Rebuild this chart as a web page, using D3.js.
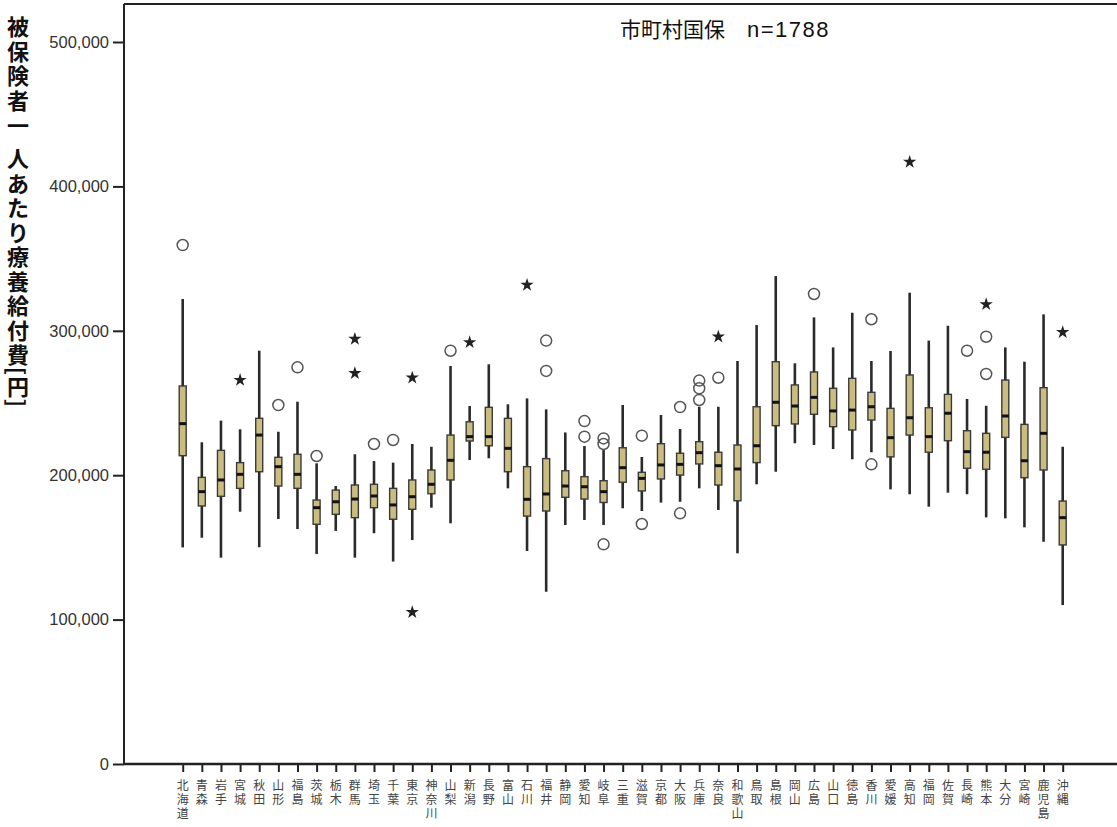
<!DOCTYPE html>
<html><head><meta charset="utf-8">
<script src="https://cdn.jsdelivr.net/npm/d3@7"></script>
<style>body{margin:0;background:#fff}</style>
</head><body><svg id="c" width="1117" height="827"></svg>
<script>
const prefectures = ["北海道","青森","岩手","宮城","秋田","山形","福島","茨城","栃木","群馬","埼玉","千葉","東京","神奈川","山梨","新潟","長野","富山","石川","福井","静岡","愛知","岐阜","三重","滋賀","京都","大阪","兵庫","奈良","和歌山","鳥取","島根","岡山","広島","山口","徳島","香川","愛媛","高知","福岡","佐賀","長崎","熊本","大分","宮崎","鹿児島","沖縄"];
const whiskerLow = [150000,156700,142900,174700,150100,169700,162700,145400,161400,142900,159800,140200,155100,177500,166700,210500,211700,190900,147500,119300,165500,169000,165500,177100,175200,181000,181600,190900,175900,145900,193700,202400,222100,220900,218100,211000,215900,190200,186800,178200,187900,186800,170800,170100,163900,153900,110100];
const q1 = [213500,178700,185400,190900,202400,192500,190900,166000,172900,170600,177500,169500,176400,187200,196700,223700,220400,202400,171700,175200,184700,183500,181100,195100,189100,197400,200100,207800,193200,182300,208700,234300,235500,242200,233600,231300,238200,212700,227800,215900,223900,204800,204100,226200,198300,203600,151700];
const median = [235700,188600,196700,200600,227800,205900,200600,177500,181600,183500,185600,179400,185100,193700,210300,226700,226700,218600,183300,187000,192500,192000,188600,205200,197800,207100,207500,215600,206600,204300,220400,250500,247900,253900,244500,245100,247400,226000,239800,226700,242900,216300,215900,241000,210000,229000,170600];
const q3 = [261800,198500,217200,208700,239400,212400,214500,182800,189700,193200,193700,190900,196700,203600,227800,237000,247000,239400,205900,211500,203100,199000,196200,219000,202000,221800,215200,223200,215900,220900,247400,278600,262500,271500,260200,267100,257400,246300,269400,246700,256000,230800,229000,265900,235200,260600,182100];
const whiskerHigh = [322000,222800,237800,231800,286200,230100,250900,208200,192500,214500,209800,208700,221600,219700,275600,247900,276800,249100,253200,245600,229600,220200,217400,248600,212600,241700,232000,247400,247400,279100,304000,337900,277500,309300,288500,312500,279100,286000,326400,293200,303500,252800,248100,288500,278600,311400,219700];
// outliers (circles) and extreme values (stars): [prefecture, value]
const outliers = [["北海道",359400],["山形",248600],["福島",274700],["茨城",213300],["埼玉",221600],["千葉",224400],["山梨",286200],["福井",293200],["福井",272200],["愛知",237500],["愛知",226700],["岐阜",225500],["岐阜",221600],["岐阜",152100],["滋賀",227400],["滋賀",166200],["大阪",247200],["大阪",173600],["兵庫",265500],["兵庫",260200],["兵庫",252100],["奈良",267500],["広島",325500],["香川",308000],["香川",207500],["長崎",286200],["熊本",295900],["熊本",270100]];
const extremes = [["宮城",265900],["群馬",294300],["群馬",270600],["東京",267500],["東京",105100],["新潟",292000],["石川",331700],["奈良",295900],["高知",416900],["熊本",318300],["沖縄",299000]];
const yTicks = [0,100000,200000,300000,400000,500000];
const chartTitle = "市町村国保";
const chartN = "n=1788";
const yTitle = "被保険者一人あたり療養給付費[円]";

const svg = d3.select("#c");
const plotLeft = 124, plotTop = 4, plotRight = 1117;
const y = d3.scaleLinear().domain([0,500000]).range([764,42]);
const x = d3.scalePoint().domain(prefectures).range([182.7,1062.7]);
const bottom = y(0);

// frame
svg.append("line").attr("x1",plotLeft).attr("x2",plotLeft).attr("y1",plotTop).attr("y2",bottom).attr("stroke","#222").attr("stroke-width",2);
svg.append("line").attr("x1",plotLeft).attr("x2",plotRight).attr("y1",plotTop).attr("y2",plotTop).attr("stroke","#222").attr("stroke-width",2);
svg.append("line").attr("x1",plotLeft).attr("x2",plotRight).attr("y1",bottom).attr("y2",bottom).attr("stroke","#222").attr("stroke-width",2.5);

// y axis
const ya = svg.append("g").attr("transform",`translate(${plotLeft},0)`)
  .call(d3.axisLeft(y).tickValues(yTicks).tickFormat(d3.format(",")).tickSize(11).tickPadding(4));
ya.select(".domain").remove();
ya.selectAll(".tick line").attr("stroke","#222").attr("stroke-width",2);
ya.selectAll(".tick text").attr("fill","#333").style("font-family","'Liberation Sans', Arial, sans-serif").style("font-size","16.5px");

// x axis
const xa = svg.append("g").attr("transform",`translate(0,${bottom})`)
  .call(d3.axisBottom(x).tickSize(8).tickFormat(""));
xa.select(".domain").remove();
xa.selectAll(".tick line").attr("stroke","#222").attr("stroke-width",2);
const xl = svg.append("g");
prefectures.forEach(p => {
  Array.from(p).forEach((ch,i) => {
    xl.append("text").attr("x",x(p)).attr("y",790 + i*14).attr("text-anchor","middle")
      .attr("fill","#444").style("font-family","'Noto Sans CJK JP', sans-serif").style("font-size","12px").text(ch);
  });
});

// boxes
const g = svg.append("g");
prefectures.forEach((p,i) => {
  const cx = x(p);
  g.append("line").attr("x1",cx).attr("x2",cx).attr("y1",y(whiskerLow[i])).attr("y2",y(whiskerHigh[i])).attr("stroke","#2a2a2a").attr("stroke-width",2.6);
  g.append("rect").attr("x",cx-3.5).attr("width",7).attr("y",y(q3[i])).attr("height",y(q1[i])-y(q3[i]))
    .attr("fill","#cbbd80").attr("stroke","#3a3a3a").attr("stroke-width",1.4);
  g.append("line").attr("x1",cx-3.5).attr("x2",cx+3.5).attr("y1",y(median[i])).attr("y2",y(median[i])).attr("stroke","#111").attr("stroke-width",3);
});
g.selectAll("circle.o").data(outliers).join("circle").attr("class","o")
  .attr("cx",d=>x(d[0])).attr("cy",d=>y(d[1])).attr("r",5.5)
  .attr("fill","none").attr("stroke","#555").attr("stroke-width",1.5);
g.selectAll("path.s").data(extremes).join("path").attr("class","s")
  .attr("transform",d=>`translate(${x(d[0])},${y(d[1])})`)
  .attr("d",d3.symbol(d3.symbolStar,55)).attr("fill","#222");

// title
const t = svg.append("text").attr("x",620).attr("y",37).attr("fill","#111");
t.append("tspan").style("font-family","'Noto Sans CJK JP', sans-serif").style("font-size","21px").text(chartTitle);
t.append("tspan").attr("dx",22).style("font-family","'Liberation Sans', Arial, sans-serif").style("font-size","22px").style("letter-spacing","1.5px").text(chartN);

// y title (vertical, one glyph per line)
const yt = svg.append("g");
let yy = 25;
Array.from(yTitle).forEach((ch,i) => {
  let step = 24.5;
  if (ch === "一") { yy += 1; }
  const tx = yt.append("text").attr("x",18).attr("y",yy).attr("text-anchor","middle").attr("dominant-baseline","central")
    .attr("fill","#111").style("font-family","'Noto Sans CJK JP', sans-serif").style("font-weight","700").style("font-size","22px").text(ch);
  if (ch === "[" || ch === "]") { tx.attr("transform",`rotate(90,18,${yy})`); step = 14; }
  if (ch === "一") { step = 33; }
  const next = yTitle[i+1];
  if (next === "[" || next === "]") step = 18;
  yy += step;
});
</script></body></html>
